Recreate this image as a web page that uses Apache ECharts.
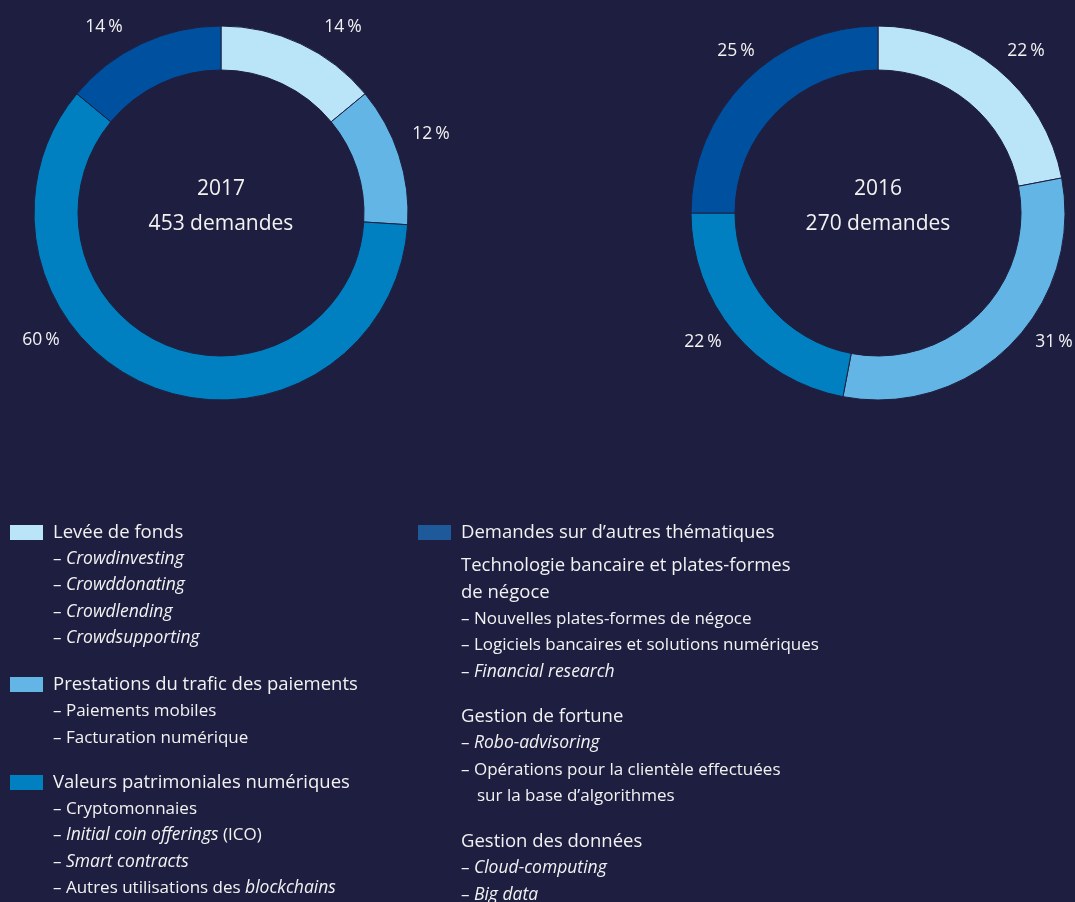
<!DOCTYPE html>
<html>
<head>
<meta charset="utf-8">
<title>Demandes FinTech 2017 / 2016</title>
<script src="https://cdn.jsdelivr.net/npm/echarts@6/dist/echarts.min.js"></script>
<style>
  html, body { margin: 0; padding: 0; background: #1e1f40; }
  #main { width: 1075px; height: 902px; }
</style>
</head>
<body>
<div id="main"></div>
<script>
// données
var categories = [
  'Levée de fonds',
  'Prestations du trafic des paiements',
  'Valeurs patrimoniales numériques',
  'Demandes sur d\u2019autres thématiques'
];
var years = ['2017', '2016'];
var totals = [453, 270];
var share2017 = [14, 12, 60, 14];
var share2016 = [22, 31, 22, 25];

// textes de la légende ({i|...} = italique)
var leveeItems = ['– {i|Crowdinvesting}', '– {i|Crowddonating}', '– {i|Crowdlending}', '– {i|Crowdsupporting}'];
var paiementItems = ['– Paiements mobiles', '– Facturation numérique'];
var valeursItems = ['– Cryptomonnaies', '– {i|Initial coin offerings} (ICO)', '– {i|Smart contracts}', '– Autres utilisations des {i|blockchains}'];
var banqueItems = ['Technologie bancaire et plates-formes', 'de négoce', '– Nouvelles plates-formes de négoce',
  '– Logiciels bancaires et solutions numériques', '– {i|Financial research}'];
var fortuneItems = ['Gestion de fortune', '– {i|Robo-advisoring}', '– Opérations pour la clientèle effectuées', '  sur la base d\u2019algorithmes'];
var donneesItems = ['Gestion des données', '– {i|Cloud-computing}', '– {i|Big data}'];

var colors = ['#bae4f8', '#62b5e4', '#0080c0', '#0050a0'];
var bg = '#1e1f40';
var txt = '#f2f2f2';
var font = '"Open Sans", "Noto Sans", sans-serif';
var step = 26.5;

var chart = echarts.init(document.getElementById('main'));

function pie(name, values, cx, cy, offsets) {
  return {
    name: name,
    type: 'pie',
    center: [cx, cy],
    radius: [143, 187],
    startAngle: 90,
    clockwise: true,
    avoidLabelOverlap: false,
    silent: true,
    itemStyle: { borderColor: bg, borderWidth: 1 },
    label: {
      show: true,
      position: 'outside',
      color: txt,
      fontSize: 17.5,
      fontFamily: font,
      formatter: function (p) { return p.value + '\u2009%'; }
    },
    labelLine: { show: false },
    labelLayout: function (p) {
      var o = offsets[p.dataIndex];
      return { x: cx + o[0], y: cy + o[1], align: 'center', verticalAlign: 'middle' };
    },
    data: categories.map(function (c, i) { return { name: c, value: values[i] }; })
  };
}

// lignes de texte sous forme d'éléments graphic
function lines(list, x, y0) {
  return list.map(function (t, i) {
    var indent = t.indexOf('  ') === 0;
    var head = !indent && t.indexOf('–') !== 0;
    return {
      type: 'text',
      x: x + (indent ? 16 : 0),
      y: y0 + i * step,
      silent: true,
      style: {
        text: indent ? t.slice(2) : t,
        fill: txt,
        font: (head ? '18.5px ' : '17px ') + font,
        verticalAlign: 'middle',
        rich: { i: { fontStyle: 'italic', fontSize: 17.5, fontFamily: font, fill: txt } }
      }
    };
  });
}

function centre(i, x) {
  return [
    { type: 'text', x: x, y: 189.5, silent: true,
      style: { text: years[i], fill: txt, font: '21px ' + font, align: 'center', verticalAlign: 'middle' } },
    { type: 'text', x: x, y: 224.5, silent: true,
      style: { text: totals[i] + ' demandes', fill: txt, font: '21px ' + font, align: 'center', verticalAlign: 'middle' } }
  ];
}

function legend(idx, left, top, extra) {
  var item = { name: categories[idx] };
  if (extra) item.itemStyle = { color: extra };
  return {
    data: [item],
    left: left,
    top: top,
    padding: 0,
    icon: 'rect',
    itemWidth: 35,
    itemHeight: 17,
    selectedMode: false,
    textStyle: { color: txt, fontSize: 18.5, fontFamily: font, padding: [0, 0, 0, 4] }
  };
}

var graphics = []
  .concat(centre(0, 221))
  .concat(centre(1, 878))
  .concat(lines(leveeItems, 53, 559))
  .concat(lines(paiementItems, 53, 711.5))
  .concat(lines(valeursItems, 53, 809))
  .concat(lines(banqueItems, 461, 566))
  .concat(lines(fortuneItems, 461, 717))
  .concat(lines(donneesItems, 461, 842));

chart.setOption({
  backgroundColor: bg,
  color: colors,
  animation: false,
  legend: [
    legend(0, 8, 523),
    legend(1, 8, 675),
    legend(2, 8, 773),
    legend(3, 416, 523, '#1e5a9a')
  ],
  series: [
    pie(years[0], share2017, 221, 213, [[122, -186], [210, -79], [-180, 127], [-117, -186]]),
    pie(years[1], share2016, 878, 213, [[148, -162], [176, 129], [-175, 129], [-142, -162]])
  ],
  graphic: graphics
});
</script>
</body>
</html>
